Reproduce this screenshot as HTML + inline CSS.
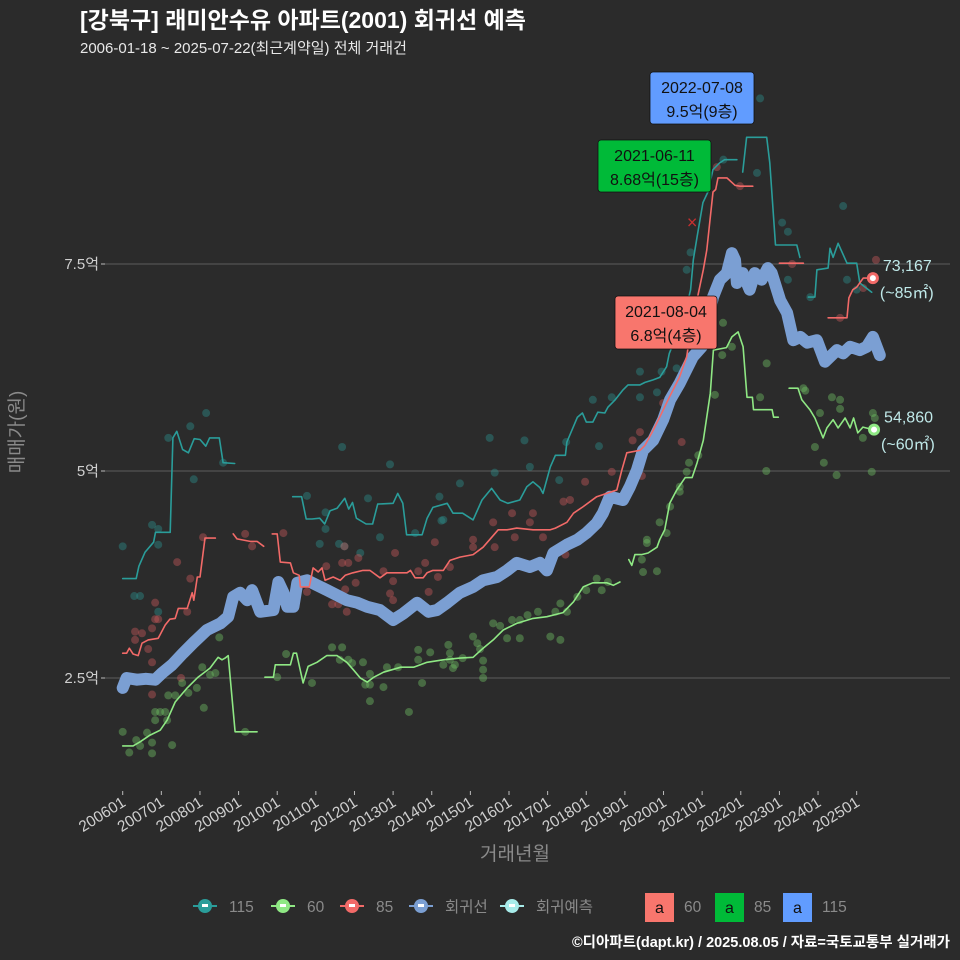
<!DOCTYPE html>
<html><head><meta charset="utf-8">
<style>
html,body{margin:0;padding:0;background:#2b2b2b;}
#wrap{position:relative;width:960px;height:960px;background:#2b2b2b;overflow:hidden;font-family:"Liberation Sans","Noto Sans CJK KR",sans-serif;}
svg text{font-family:"Liberation Sans","Noto Sans CJK KR",sans-serif;}
</style></head>
<body>
<div id="wrap">
<svg id="chart" width="960" height="960" xmlns="http://www.w3.org/2000/svg">
<text x="80" y="28" fill="#ffffff" font-size="23" font-weight="bold">[강북구] 래미안수유 아파트(2001) 회귀선 예측</text>
<text x="80" y="53" fill="#e8e8e8" font-size="15">2006-01-18 ~ 2025-07-22(최근계약일) 전체 거래건</text>
<g id="grid"></g>
<g id="yaxis"></g>
<g id="xaxis"></g>
<text transform="translate(23,432) rotate(-90)" text-anchor="middle" fill="#8a8a8a" font-size="19">매매가(원)</text>
<text x="515" y="860" text-anchor="middle" fill="#8a8a8a" font-size="19">거래년월</text>
<g id="points"></g>
<g id="lines"></g>
<g id="annot"></g>
<g id="legend"></g>
<text x="950" y="947" text-anchor="end" fill="#ffffff" font-size="14.5" font-weight="bold">©디아파트(dapt.kr) / 2025.08.05 / 자료=국토교통부 실거래가</text>
</svg>
</div>
<script>
// ---- data (time in decimal years, value in 억) ----
const yTicks=[2.5,5,7.5];
const yTickLabels=["2.5억","5억","7.5억"];
const xTickYears=[2006,2007,2008,2009,2010,2011,2012,2013,2014,2015,2016,2017,2018,2019,2020,2021,2022,2023,2024,2025];
const xTickLabels=["200601","200701","200801","200901","201001","201101","201201","201301","201401","201501","201601","201701","201801","201901","202001","202101","202201","202301","202401","202501"];

const t115=[2006.0,2006.35,2006.42,2006.58,2006.8,2006.85,2007.23,2007.3,2007.4,2007.55,2007.7,2007.85,2008.0,2008.15,2008.25,2008.5,2008.6,2008.9,null,
2010.4,2010.63,2010.75,2010.9,2011.1,2011.23,2011.37,2011.55,2011.75,2011.85,2011.95,2012.05,2012.3,2012.47,2012.6,2013.0,2013.12,2013.25,2013.35,2013.75,2013.88,2014.03,2014.4,2014.55,2014.8,2015.07,2015.3,2015.55,2015.77,2015.97,2016.28,2016.46,2016.62,2016.8,2016.88,2017.07,2017.2,2017.46,2017.5,2017.77,2017.9,2018.0,2018.17,2018.3,2018.48,2018.56,2018.75,2018.95,2019.08,2019.39,2019.52,2019.73,2019.9,2020.08,2020.15,2020.26,2020.5,2020.7,2020.77,2020.87,2021.02,2021.15,2021.28,2021.45,2021.58,2021.9,null,
2022.05,2022.15,2022.67,2022.75,2022.9,2023.45,2023.53,null,
2023.75,2023.92,2023.97,2024.26,2024.31,2024.39,2024.52,2024.75,2025.0,2025.08,2025.39];
const v115=[3.70,3.70,3.85,4.02,4.14,4.26,4.26,5.40,5.48,5.26,5.22,5.39,5.38,5.30,5.40,5.40,5.10,5.09,null,
4.69,4.69,4.42,4.42,4.43,4.36,4.52,4.55,4.67,4.54,4.62,4.43,4.36,4.36,4.60,4.61,4.73,4.61,4.23,4.23,4.43,4.56,4.61,4.49,4.49,4.41,4.65,4.79,4.65,4.61,4.65,4.81,4.87,4.80,4.73,5.05,5.19,5.19,5.35,5.65,5.70,5.59,5.59,5.71,5.70,5.77,5.86,5.98,6.04,6.04,6.07,6.10,6.13,6.26,6.42,6.55,6.79,7.19,7.55,7.83,8.24,8.37,8.64,8.72,8.76,8.76,null,
8.61,9.03,9.03,8.72,7.73,7.73,7.58,null,
7.10,7.10,7.43,7.45,7.69,7.58,7.75,7.51,7.51,7.27,7.16];

const t85=[2006.0,2006.1,2006.17,2006.27,2006.4,2006.5,2006.66,2006.92,2007.1,2007.22,2007.36,2007.44,2007.67,2007.8,2007.84,2007.93,2008.0,2008.13,2008.4,null,
2008.86,2008.96,2009.3,2009.48,2009.65,null,
2009.87,2010.0,2010.08,2010.34,2010.42,2010.57,2010.6,2010.83,2010.93,2011.06,2011.16,2011.24,2011.45,2011.63,2011.76,2011.96,2012.22,2012.4,2012.66,2012.84,2013.36,2013.45,2013.57,2013.78,2013.88,2014.03,2014.3,2014.47,2014.73,2015.07,2015.33,2015.72,2015.95,2016.2,2016.62,2017.07,2017.2,2017.5,2017.67,2017.92,2018.27,2018.53,2018.79,2018.92,2019.05,2019.39,2019.52,2019.73,2019.9,2020.15,2020.41,2020.6,2020.7,2021.03,2021.12,2021.28,2021.35,2021.41,2021.64,2021.85,2021.98,2022.31,null,
2023.0,2023.62,null,
2024.26,2024.75,2024.8,2024.9,2025.0,2025.17,2025.35];
const v85=[2.80,2.80,2.86,2.79,2.77,2.92,2.96,2.98,3.14,3.21,3.22,3.34,3.34,3.53,3.44,3.72,3.72,4.19,4.19,null,
4.24,4.18,4.15,4.15,4.09,null,
4.24,4.24,3.90,3.89,3.77,3.74,3.60,3.60,3.83,3.78,3.83,3.68,3.72,3.68,3.74,3.77,3.80,3.80,3.71,3.77,3.77,3.80,3.71,3.71,3.77,3.80,3.80,3.92,3.96,3.99,4.08,4.29,4.29,4.31,4.29,4.29,4.31,4.38,4.49,4.57,4.69,4.73,4.77,5.01,5.22,5.25,5.31,5.49,5.65,5.89,6.13,6.38,6.70,7.43,7.67,8.37,8.40,8.54,8.54,8.45,8.44,8.44,null,
7.51,7.51,null,
6.85,6.85,7.09,7.19,7.22,7.33,7.33];

const t60=[2006.0,2006.27,2006.45,2006.71,2006.97,2007.15,2007.36,2007.67,2007.95,2008.26,2008.47,2008.57,2008.65,2008.73,2008.91,2009.48,null,
2009.68,2009.9,2009.95,2010.34,2010.42,2010.5,2010.67,2010.8,2011.03,2011.28,2011.55,2011.8,2011.97,2012.15,2012.33,2012.5,2012.75,2013.2,2013.53,2013.88,2014.3,2014.73,2015.07,2015.33,2015.59,2015.85,2016.2,2016.62,2016.98,2017.4,2017.67,2017.92,2018.17,2018.53,2018.7,2018.87,null,
2019.1,2019.18,2019.26,2019.43,2019.6,2019.83,2019.9,2020.03,2020.16,2020.34,2020.56,2020.74,2020.87,2021.03,2021.21,2021.29,2021.63,2021.77,2021.93,2022.06,2022.16,2022.3,2022.33,2022.81,2022.85,2022.97,null,
2023.25,2023.48,2023.58,2023.79,2023.92,2024.13,2024.23,2024.39,2024.52,2024.7,2024.83,2024.92,2025.03,2025.16,2025.42];
const v60=[1.68,1.68,1.73,1.81,1.87,1.99,2.21,2.38,2.51,2.62,2.75,2.72,2.74,2.77,1.85,1.85,null,
2.51,2.51,2.66,2.66,2.80,2.80,2.44,2.64,2.69,2.77,2.77,2.69,2.60,2.50,2.45,2.51,2.57,2.63,2.63,2.69,2.72,2.74,2.75,2.86,2.96,3.08,3.16,3.22,3.24,3.29,3.42,3.60,3.65,3.65,3.62,3.66,null,
3.93,3.86,3.99,3.99,4.01,4.08,4.17,4.29,4.61,4.77,4.92,4.92,5.10,5.37,5.94,6.46,6.49,6.62,6.68,6.50,5.89,5.89,5.74,5.74,5.65,5.65,null,
6.00,6.00,5.86,5.74,5.64,5.40,5.52,5.62,5.52,5.64,5.52,5.64,5.46,5.53,5.50];

const tReg=[2006.0,2006.1,2006.37,2006.6,2006.84,2007.02,2007.28,2007.56,2007.84,2008.18,2008.53,2008.73,2008.86,2009.04,2009.22,2009.35,2009.56,2009.9,2010.03,2010.16,2010.26,2010.42,2010.52,2010.77,2011.03,2011.29,2011.55,2011.8,2012.07,2012.33,2012.66,2013.0,2013.27,2013.62,2013.92,2014.13,2014.4,2014.73,2015.07,2015.33,2015.69,2015.95,2016.2,2016.54,2016.8,2016.98,2017.15,2017.5,2017.77,2018.0,2018.27,2018.43,2018.61,2018.95,2019.13,2019.31,2019.47,2019.73,2019.99,2020.17,2020.42,2020.76,2020.99,2021.28,2021.46,2021.64,2021.77,2021.85,2021.9,2022.05,2022.23,2022.36,2022.54,2022.7,2022.8,2023.02,2023.2,2023.36,2023.54,2023.72,2023.97,2024.18,2024.49,2024.65,2024.83,2025.08,2025.26,2025.42,2025.6];
const vReg=[2.38,2.50,2.48,2.49,2.48,2.56,2.66,2.80,2.93,3.08,3.16,3.24,3.48,3.53,3.44,3.56,3.30,3.32,3.66,3.53,3.36,3.36,3.65,3.68,3.62,3.56,3.50,3.44,3.41,3.36,3.32,3.20,3.28,3.41,3.30,3.32,3.41,3.53,3.60,3.68,3.72,3.80,3.89,3.84,3.89,3.80,4.01,4.11,4.17,4.25,4.37,4.49,4.69,4.65,4.81,5.01,5.25,5.37,5.62,5.86,6.06,6.38,6.50,7.10,7.31,7.39,7.63,7.55,7.27,7.39,7.19,7.39,7.31,7.45,7.39,7.06,6.91,6.58,6.62,6.55,6.58,6.32,6.46,6.42,6.50,6.46,6.50,6.62,6.40];

const p115t=[2006.0,2006.3,2006.45,2006.76,2006.92,2006.92,2006.92,2007.18,2007.75,2008.16,2007.84,2008.6,2010.77,2011.25,2011.25,2011.1,2011.6,2011.68,2011.74,2012.15,2012.35,2012.66,2012.92,2013.57,2014.2,2014.25,2014.3,2014.73,2015.5,2015.63,2016.4,2016.54,2017.3,2017.48,2018.17,2018.33,2018.66,2019.39,2019.39,2019.83,2019.95,2020.34,2020.6,2020.7,2021.55,2022.42,2022.5,2023.07,2023.22,2023.22,2023.8,2024.65,2024.75,2025.0];
const p115v=[4.09,3.49,3.49,4.35,4.30,4.11,3.30,5.40,5.54,5.70,4.90,5.10,4.70,4.50,4.30,4.12,4.12,5.29,4.09,4.01,4.67,4.20,5.08,4.25,4.69,4.40,4.41,4.85,5.40,4.98,5.37,5.05,4.89,5.35,5.86,5.30,5.89,6.20,5.89,5.95,6.20,6.24,7.43,7.64,8.76,8.60,9.50,8.00,7.89,7.31,7.10,8.20,7.31,7.19];

const p85t=[2006.32,2006.5,2006.32,2006.84,2006.84,2006.92,2006.76,2006.66,2006.76,2006.76,2007.41,2007.75,2007.67,2007.51,2008.08,2009.17,2009.35,2010.16,2010.77,2011.27,2011.42,2011.58,2011.74,2011.8,2011.68,2011.84,2012.1,2011.76,2012.03,2012.75,2013.0,2012.92,2013.0,2013.05,2013.65,2013.83,2013.92,2014.08,2014.16,2014.47,2015.07,2015.07,2015.63,2015.59,2016.08,2016.15,2016.62,2016.54,2016.88,2017.41,2017.58,2017.46,2017.97,2018.66,2019.2,2019.39,2019.44,2019.99,2020.47,2021.38,2021.98,2023.33,2024.57,2025.17,2025.5];
const p85v=[3.06,3.04,2.96,3.41,3.21,3.21,3.10,2.85,2.69,2.30,3.90,3.70,3.30,2.50,4.20,4.24,4.09,4.25,3.54,3.85,3.39,3.39,4.09,3.30,3.89,3.89,3.95,3.57,3.65,3.79,3.67,3.52,3.44,4.01,3.79,3.89,3.54,4.14,3.72,3.84,4.17,4.08,4.08,4.38,4.49,4.20,4.49,4.38,4.20,4.63,4.65,3.99,4.87,4.99,5.37,5.47,4.94,5.82,5.35,8.67,8.44,7.50,6.85,7.21,7.55];

const p60t=[2006.0,2006.17,2006.35,2006.45,2006.63,2006.76,2006.76,2006.84,2006.97,2007.1,2006.84,2007.15,2007.28,2007.18,2007.36,2007.54,2007.7,2007.92,2008.06,2008.1,2008.26,2008.4,2008.5,2009.17,2010.0,2010.23,2010.9,2011.42,2011.68,2011.62,2011.84,2011.94,2012.22,2012.28,2012.4,2012.4,2012.4,2012.75,2012.84,2013.13,2013.41,2013.65,2013.65,2013.75,2013.96,2014.43,2014.47,2014.6,2014.3,2014.55,2014.47,2014.8,2015.07,2015.18,2015.25,2015.33,2015.33,2015.33,2015.59,2015.77,2015.95,2016.08,2016.28,2016.28,2016.48,2016.75,2017.07,2017.33,2017.2,2017.5,2017.33,2017.77,2018.0,2018.27,2018.4,2018.56,2019.44,2019.47,2019.83,2019.57,2019.57,2019.9,2020.08,2020.17,2020.42,2020.42,2020.6,2020.66,2020.9,2021.33,2021.54,2021.77,2021.52,2022.5,2022.67,2022.66,2023.62,2023.67,2023.92,2024.05,2024.15,2024.36,2024.57,2024.57,2024.48,2025.16,2025.42,2025.47,2025.39];
const p60v=[1.85,1.60,1.75,1.68,1.84,1.72,1.59,2.09,2.09,2.09,1.99,1.99,1.69,2.29,2.29,2.44,2.32,2.38,2.63,2.14,2.54,2.56,2.99,1.85,2.51,2.79,2.44,2.87,2.87,2.72,2.72,2.68,2.69,2.42,2.42,2.22,2.55,2.39,2.63,2.63,2.09,2.84,2.72,2.44,2.81,2.90,2.72,2.66,2.66,2.62,2.80,2.74,3.00,2.92,2.85,2.60,2.50,2.71,3.16,3.13,2.98,3.20,2.98,3.20,3.26,3.30,3.00,2.96,3.30,3.30,3.40,3.48,3.56,3.70,3.56,3.66,3.93,3.78,3.79,4.17,4.13,4.38,4.25,4.57,4.81,4.75,4.99,5.10,5.19,5.92,6.79,6.50,6.40,5.89,6.30,5.00,6.00,5.97,5.29,5.70,5.10,5.89,5.86,5.75,4.95,5.40,5.70,5.64,4.99];

// ---- axes ----
function X(t){return 122.7+(t-2006)*38.63;}
function Y(v){return 678-(v-2.5)*82.8;}
const NS="http://www.w3.org/2000/svg";
function mk(tag,attrs,parent){const e=document.createElementNS(NS,tag);for(const k in attrs)e.setAttribute(k,attrs[k]);parent.appendChild(e);return e;}

const grid=document.getElementById('grid');
const yax=document.getElementById('yaxis');
yTicks.forEach((v,i)=>{
  const l=mk('line',{x1:105,x2:950,y1:Y(v),y2:Y(v),stroke:'#5e5e5e','stroke-width':1},grid);
  
  
  const tk=mk('line',{x1:101,x2:105,y1:Y(v),y2:Y(v),stroke:'#bbbbbb','stroke-width':1},yax);
  
  
  const tx=mk('text',{x:99,y:Y(v)+5,'text-anchor':'end',fill:'#cfcfcf','font-size':15},yax);
  tx.textContent=yTickLabels[i];
  
  
});
const xax=document.getElementById('xaxis');
xTickYears.forEach((yr,i)=>{
  const x=X(yr);
  const tk=mk('line',{x1:x,x2:x,y1:791,y2:795,stroke:'#bbbbbb','stroke-width':1},xax);
  
  
  const tx=mk('text',{transform:`translate(${x+4},${805}) rotate(-32)`,'text-anchor':'end',fill:'#cfcfcf','font-size':15.5},xax);
  tx.textContent=xTickLabels[i];
  
  
});

// ---- scatter ----
const pts=document.getElementById('points');
function scatter(ts,vs,color,name){
  ts.forEach((t,i)=>{
    const c=mk('circle',{cx:X(t),cy:Y(vs[i]),r:4,fill:color,'fill-opacity':0.42},pts);
    
    
  });
}
scatter(p115t,p115v,'#2a8f8c','point-115');
scatter(p85t,p85v,'#c9585a','point-85');
scatter(p60t,p60v,'#6fc065','point-60');

// ---- lines ----
const lines=document.getElementById('lines');
function pathFrom(ts,vs){
  let d='',pen=false;
  ts.forEach((t,i)=>{
    if(t===null||vs[i]===null){pen=false;return;}
    d+=(pen?'L':'M')+X(t).toFixed(1)+','+Y(vs[i]).toFixed(1);pen=true;
  });
  return d;
}
function line(ts,vs,color,w,name){
  const p=mk('path',{d:pathFrom(ts,vs),fill:'none',stroke:color,'stroke-width':w,'stroke-linejoin':'round','stroke-linecap':'round'},lines);
  
  
}
line(tReg,vReg,'#7b9fd3',12,'regression-line');
line(t115,v115,'#2a9d9a',1.6,'line-115');
line(t85,v85,'#f26a68',1.6,'line-85');
line(t60,v60,'#8fe884',1.6,'line-60');

// ---- annotations ----
const an=document.getElementById('annot');
const cx=mk('text',{x:X(2020.74),y:Y(8.0)+6,'text-anchor':'middle',fill:'#c83030','font-size':18},an);
cx.textContent='×';


function box(x,y,w,h,fill,l1,l2,name){
  const g=mk('g',{},an);
  
  
  mk('rect',{x:x,y:y,width:w,height:h,rx:3,fill:fill,stroke:'#111','stroke-width':0.8},g);
  const a=mk('text',{x:x+w/2,y:y+21,'text-anchor':'middle',fill:'#111','font-size':16},g);a.textContent=l1;
  const b=mk('text',{x:x+w/2,y:y+45,'text-anchor':'middle',fill:'#111','font-size':16},g);b.textContent=l2;
}
box(650,72,104,52,'#619cff','2022-07-08','9.5억(9층)','annotation-115');
box(598,140,113,52,'#00ba38','2021-06-11','8.68억(15층)','annotation-85');
box(615,296,102,53,'#f8766d','2021-08-04','6.8억(4층)','annotation-60');
function endMark(t,v,color,l1,l2,name){
  const g=mk('g',{},an);
  
  
  mk('circle',{cx:X(t),cy:Y(v),r:6,fill:color},g);
  mk('circle',{cx:X(t),cy:Y(v),r:3,fill:'#ffffff'},g);
  const a=mk('text',{x:X(t)+10,y:Y(v)-7,fill:'#bfe8e8','font-size':16},g);a.textContent=l1;
  const b=mk('text',{x:X(t)+7,y:Y(v)+20,fill:'#bfe8e8','font-size':16},g);b.textContent=l2;
}
endMark(2025.42,7.33,'#f26a68','73,167','(~85㎡)','end-label-85');
endMark(2025.45,5.50,'#8fe884','54,860','(~60㎡)','end-label-60');

// ---- legend ----
const lg=document.getElementById('legend');
const legItems=[['115','#2a9d9a',205],['60','#8fe884',283],['85','#f26a68',352],['회귀선','#7b9fd3',421],['회귀예측','#a8ecea',512]];
legItems.forEach(it=>{
  const g=mk('g',{},lg);
  
  
  mk('line',{x1:it[2]-12,x2:it[2]+12,y1:906,y2:906,stroke:it[1],'stroke-width':2},g);
  mk('circle',{cx:it[2],cy:906,r:7,fill:it[1]},g);
  mk('rect',{x:it[2]-3,y:904,width:6,height:3,fill:'#ffffff'},g);
  const t=mk('text',{x:it[2]+24,y:912,fill:'#8a8a8a','font-size':15.5},g);t.textContent=it[0];
});
const sq=[['#f8766d',645,'60'],['#00ba38',715,'85'],['#619cff',783,'115']];
sq.forEach(s=>{
  const g=mk('g',{},lg);
  
  
  mk('rect',{x:s[1],y:893,width:29,height:29,fill:s[0]},g);
  const a=mk('text',{x:s[1]+14.5,y:913,'text-anchor':'middle',fill:'#111','font-size':16},g);a.textContent='a';
  const b=mk('text',{x:s[1]+39,y:912,fill:'#8a8a8a','font-size':15.5},g);b.textContent=s[2];
});
</script>
</body></html>
